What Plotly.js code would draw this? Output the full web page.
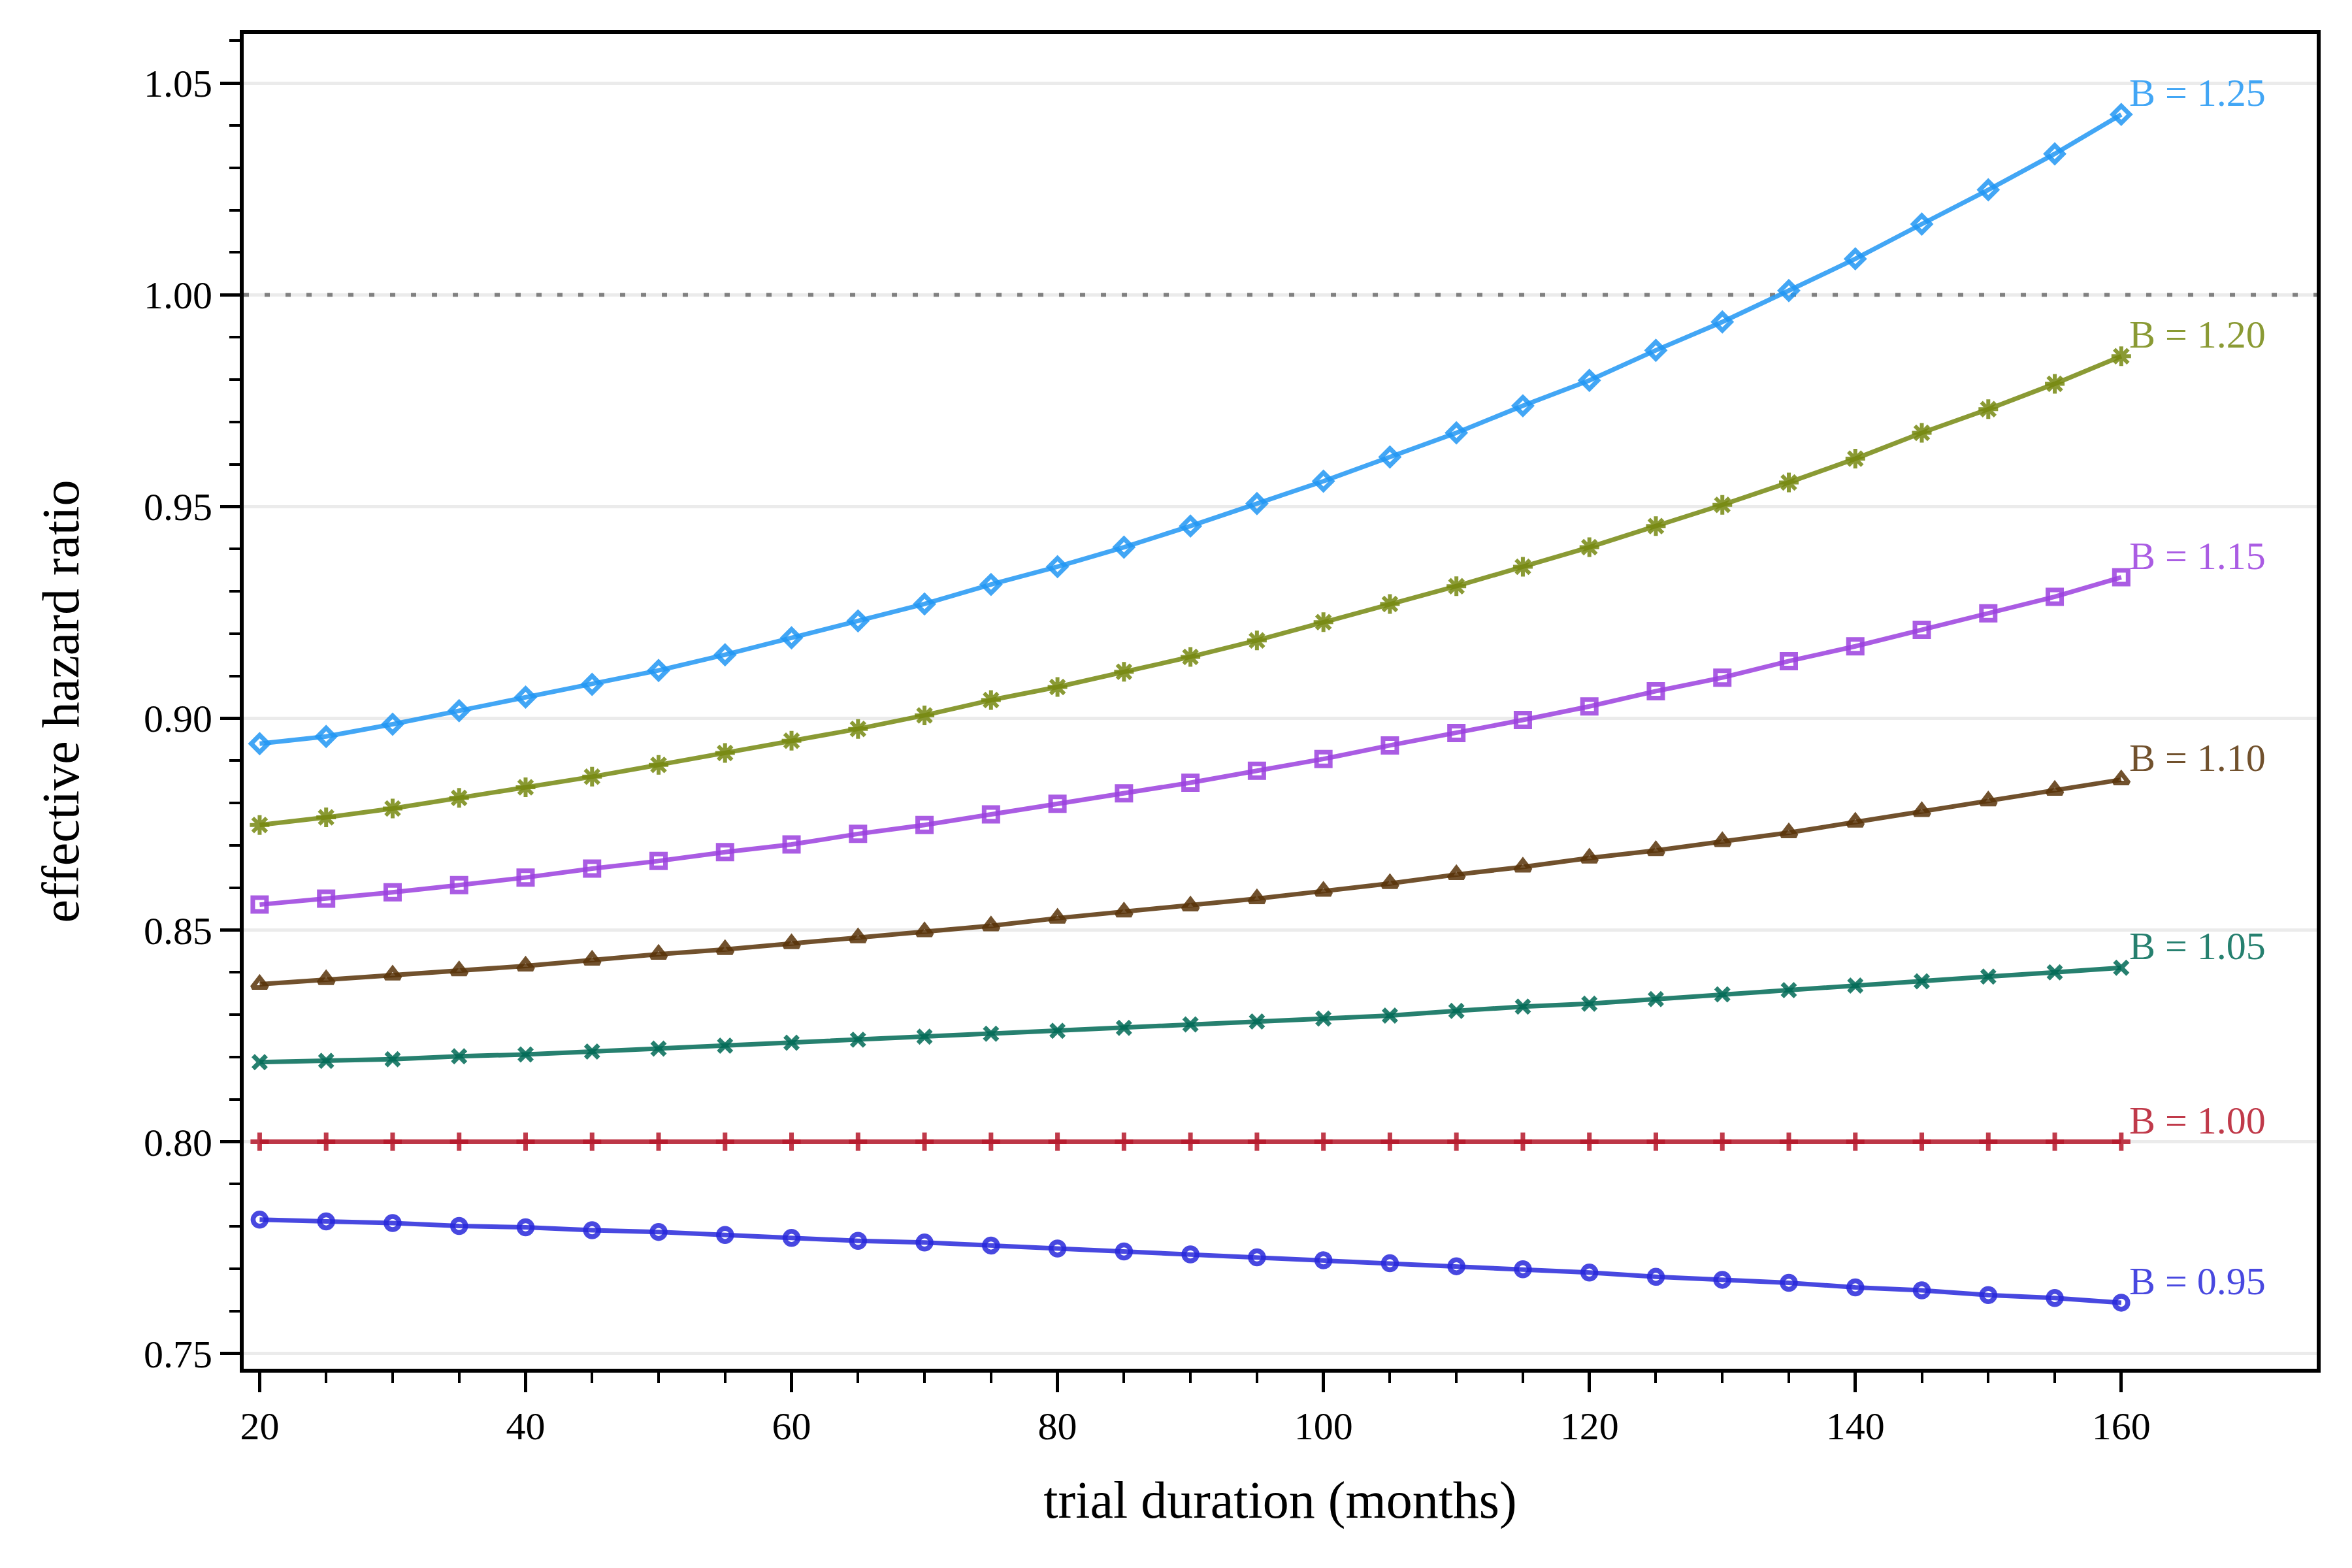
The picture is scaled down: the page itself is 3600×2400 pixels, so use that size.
<!DOCTYPE html>
<html>
<head>
<meta charset="utf-8">
<script src="https://cdn.plot.ly/plotly-3.0.1.min.js"></script>
<style>html,body{margin:0;padding:0;background:#fff;} #chart{width:3600px;height:2400px;}</style>
</head>
<body>
<div id="chart"></div>
<script>
// ---- data ----
const months = [20,25,30,35,40,45,50,55,60,65,70,75,80,85,90,95,100,105,110,115,120,125,130,135,140,145,150,155,160];

const hr_B125 = [0.8940,0.8957,0.8986,0.9018,0.9050,0.9080,0.9113,0.9150,0.9190,0.9230,0.9270,0.9316,0.9358,0.9404,0.9454,0.9507,0.9560,0.9617,0.9674,0.9738,0.9798,0.9869,0.9936,1.0010,1.0085,1.0167,1.0248,1.0333,1.0426];
const hr_B120 = [0.8748,0.8766,0.8787,0.8812,0.8837,0.8862,0.8890,0.8918,0.8947,0.8975,0.9007,0.9043,0.9074,0.9110,0.9145,0.9184,0.9227,0.9270,0.9312,0.9358,0.9404,0.9454,0.9504,0.9557,0.9613,0.9674,0.9730,0.9790,0.9855];
const hr_B115 = [0.8560,0.8574,0.8589,0.8606,0.8624,0.8645,0.8663,0.8684,0.8702,0.8727,0.8748,0.8773,0.8798,0.8823,0.8848,0.8876,0.8904,0.8936,0.8965,0.8996,0.9028,0.9064,0.9096,0.9135,0.9170,0.9209,0.9248,0.9287,0.9333];
const hr_B110 = [0.8372,0.8383,0.8394,0.8404,0.8415,0.8429,0.8443,0.8454,0.8468,0.8482,0.8496,0.8510,0.8528,0.8543,0.8557,0.8574,0.8592,0.8610,0.8631,0.8649,0.8670,0.8688,0.8709,0.8730,0.8755,0.8780,0.8805,0.8830,0.8855];
const hr_B105 = [0.8188,0.8191,0.8195,0.8202,0.8206,0.8213,0.8220,0.8227,0.8234,0.8241,0.8248,0.8255,0.8262,0.8269,0.8277,0.8284,0.8291,0.8298,0.8309,0.8319,0.8326,0.8337,0.8348,0.8358,0.8369,0.8379,0.8390,0.8400,0.8411];
const hr_B100 = [0.80,0.80,0.80,0.80,0.80,0.80,0.80,0.80,0.80,0.80,0.80,0.80,0.80,0.80,0.80,0.80,0.80,0.80,0.80,0.80,0.80,0.80,0.80,0.80,0.80,0.80,0.80,0.80,0.80];
const hr_B095 = [0.7816,0.7812,0.7808,0.7801,0.7798,0.7791,0.7787,0.7780,0.7773,0.7766,0.7762,0.7755,0.7748,0.7741,0.7734,0.7727,0.7720,0.7713,0.7706,0.7699,0.7691,0.7681,0.7674,0.7667,0.7656,0.7649,0.7638,0.7631,0.7620];

const seriesLabels = ["B = 1.25","B = 1.20","B = 1.15","B = 1.10","B = 1.05","B = 1.00","B = 0.95"];
const seriesValues = [hr_B125,hr_B120,hr_B115,hr_B110,hr_B105,hr_B100,hr_B095];

const xRange = [18.8, 174.7];
const yRange = [0.7464, 1.0616];
const xMajorTicks = [20,40,60,80,100,120,140,160];
const xMinorTicks = [25,30,35,45,50,55,65,70,75,85,90,95,105,110,115,125,130,135,145,150,155];
const yMajorTicks = [0.75,0.80,0.85,0.90,0.95,1.00,1.05];
const yTickText = ["0.75","0.80","0.85","0.90","0.95","1.00","1.05"];
const yMinorTicks = [0.76,0.77,0.78,0.79,0.81,0.82,0.83,0.84,0.86,0.87,0.88,0.89,0.91,0.92,0.93,0.94,0.96,0.97,0.98,0.99,1.01,1.02,1.03,1.04,1.06];
const referenceHR = 1.00;

// ---- styles ----
const colors = ["33,150,243","117,136,17","155,64,222","88,50,8","0,106,86","181,23,42","40,40,219"];
const symbols = ["diamond-open","asterisk-open","square-open","triangle-up-open","x-thin-open","cross-thin-open","circle-open"];
const sizes = [20,25,21,20,20,20,20];
const markerLW = [7,6,7,7,7,7,7.5];
const alpha = 0.85;
const FONT = "Liberation Serif, Times New Roman, serif";

// reference line at HR = 1 across the full axis
const refTrace = {
  x: xRange, y: [referenceHR, referenceHR], type: "scatter", mode: "lines",
  line: {color: "#808080", width: 6, dash: "8px,24px"},
  showlegend: false, hoverinfo: "skip", cliponaxis: true
};

const traces = [refTrace].concat(seriesValues.map((vals,i)=>({
  x: months, y: vals, type: "scatter", mode: "lines+markers",
  name: seriesLabels[i],
  line: {color: `rgba(${colors[i]},${alpha})`, width: 7},
  marker: {symbol: symbols[i], size: sizes[i], color: `rgba(${colors[i]},${alpha})`,
           line: {color: `rgba(${colors[i]},${alpha})`, width: markerLW[i]}},
  showlegend: false, cliponaxis: false
})));

const annotations = seriesValues.map((vals,i)=>({
  x: months[months.length-1], y: vals[vals.length-1], xref: "x", yref: "y",
  text: seriesLabels[i], showarrow: false, xanchor: "left", yanchor: "bottom",
  xshift: 10, yshift: -2,
  font: {family: FONT, size: 60, color: `rgba(${colors[i]},${alpha})`}
}));

const layout = {
  width: 3600, height: 2400,
  paper_bgcolor: "#fff", plot_bgcolor: "#fff",
  margin: {l: 373, r: 54, t: 52, b: 305},
  font: {family: FONT, size: 60, color: "#000"},
  showlegend: false,
  xaxis: {
    range: xRange, showline: true, mirror: true, linewidth: 6, linecolor: "#000",
    tickmode: "array", tickvals: xMajorTicks, ticktext: xMajorTicks.map(String),
    ticks: "outside", ticklen: 30, tickwidth: 5, tickcolor: "#000",
    showgrid: false, zeroline: false,
    tickfont: {family: FONT, size: 60, color: "#000"},
    minor: {tickmode: "array", tickvals: xMinorTicks, ticks: "outside", ticklen: 16, tickwidth: 4, tickcolor: "#000", showgrid: false},
    title: {text: "trial duration (months)", font: {family: FONT, size: 80, color: "#000"}, standoff: 54}
  },
  yaxis: {
    range: yRange, showline: true, mirror: true, linewidth: 6, linecolor: "#000",
    tickmode: "array", tickvals: yMajorTicks, ticktext: yTickText,
    ticks: "outside", ticklen: 30, tickwidth: 5, tickcolor: "#000",
    showgrid: true, gridcolor: "#ebebeb", gridwidth: 5, zeroline: false,
    tickfont: {family: FONT, size: 60, color: "#000"},
    minor: {tickmode: "array", tickvals: yMinorTicks, ticks: "outside", ticklen: 16, tickwidth: 4, tickcolor: "#000", showgrid: false},
    title: {text: "effective hazard ratio", font: {family: FONT, size: 80, color: "#000"}, standoff: 75}
  },
  annotations: annotations
};

Plotly.newPlot("chart", traces, layout, {staticPlot: true, displayModeBar: false});
</script>
</body>
</html>
